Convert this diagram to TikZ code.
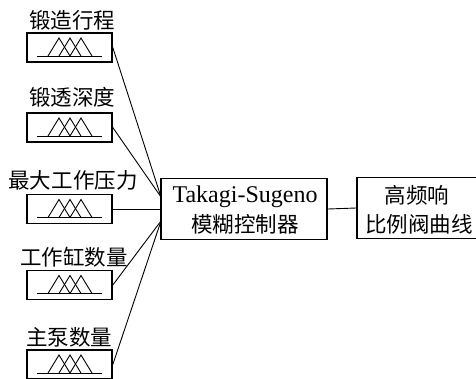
\documentclass[tikz,border=0pt]{standalone}
\usepackage{fontspec}
\setmainfont{Liberation Serif}
\newfontfamily\cjk{Noto Sans CJK SC}
\begin{document}
\begin{tikzpicture}[x=1pt,y=-1pt,
  inbox/.style={draw, line width=1.6pt, minimum width=85pt, minimum height=29pt, inner sep=0pt},
  bigbox/.style={draw, line width=1.6pt, inner sep=0pt, minimum height=61pt},
  lbl/.style={font=\cjk\fontsize{21.5}{24}\selectfont, inner sep=0pt},
  latin/.style={font=\fontsize{24}{26}\selectfont, inner sep=0pt},
  conn/.style={line width=0.9pt},
  mf/.style={line width=0.9pt}]
\useasboundingbox (0,0) rectangle (476,378);
% input boxes
\node[inbox] (b1) at (69.5,47.5) {};
\node[inbox] (b2) at (69.5,127.5) {};
\node[inbox] (b3) at (69.5,209) {};
\node[inbox] (b4) at (69.5,285) {};
\node[inbox] (b5) at (69.5,364.5) {};
% labels
\node[lbl] (l1) at (72,20) {锻造行程};
\node[lbl] (l2) at (72,97) {锻透深度};
\node[lbl] (l3) at (73,180) {最大工作压力};
\node[lbl] (l4) at (74,257) {工作缸数量};
\node[lbl] (l5) at (69,337) {主泵数量};
% membership functions
\foreach \i in {1,...,5}{
  \begin{scope}[shift={(b\i.center)}]
    \draw[mf] (-32.5,8.5) -- (32.5,8.5);
    \draw[mf] (-21.5,8.5) -- (-10.5,-9.5) -- (0.5,8.5) -- (11.5,-9.5) -- (22.5,8.5);
    \draw[mf] (-10.5,8.5) -- (0.5,-9.5) -- (11.5,8.5);
  \end{scope}
}
% controller
\node[bigbox, minimum width=166pt] (ctrl) at (244,209) {};
\node[latin, anchor=base] (t1) at (245,202) {Takagi-Sugeno};
\node[lbl] (t2) at (245,224) {模糊控制器};
% output
\node[bigbox, minimum width=130pt] (out) at (422,208) {};
\node[lbl] (o1) at (417,195) {高频响};
\node[lbl] (o2) at (419,224) {比例阀曲线};
% connectors
\coordinate (in1) at (161,197);
\coordinate (in2) at (161,221);
\draw[conn] (b1.east) -- (in1);
\draw[conn] (b2.east) -- (in1);
\draw[conn] (b3.east) -- (ctrl.west);
\draw[conn] (b4.east) -- (in2);
\draw[conn] (b5.east) -- (in2);
\draw[conn] (ctrl.east) -- (out.west);
\end{tikzpicture}
\end{document}
